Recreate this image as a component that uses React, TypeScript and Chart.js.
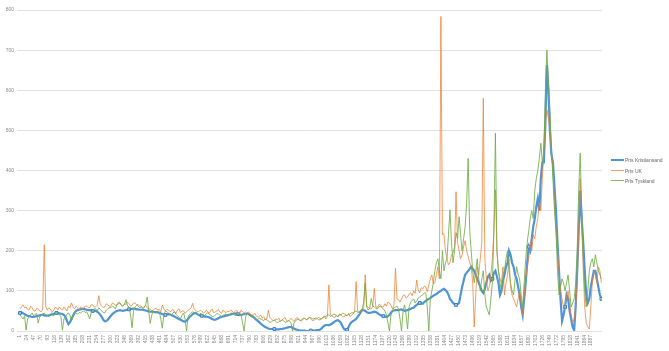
import React, { useEffect, useRef } from "react";
import { Chart, registerables } from "chart.js";

Chart.register(...registerables);

// Observation numbers of the samples: every 5th observation, starting at 1
const SAMPLE_START = 1;
const SAMPLE_STEP = 5;

const xTickLabels = [
  1, 24, 47, 70, 93, 116, 139, 162, 185, 208, 231, 254, 277, 300, 323, 346, 369, 392, 415, 438,
  461, 484, 507, 530, 553, 576, 599, 622, 645, 668, 691, 714, 737, 760, 783, 806, 829, 852, 875,
  898, 921, 944, 967, 990, 1013, 1036, 1059, 1082, 1105, 1128, 1151, 1174, 1197, 1220, 1243, 1266,
  1289, 1312, 1335, 1358, 1381, 1404, 1427, 1450, 1473, 1496, 1519, 1542, 1565, 1588, 1611, 1634,
  1657, 1680, 1703, 1726, 1749, 1772, 1795, 1818, 1841, 1864, 1887,
];

const yTicks = [0, 100, 200, 300, 400, 500, 600, 700, 800];

const seriesNames = ["Pris Kristiansand", "Pris UK", "Pris Tyskland"];

const prisKristiansand = [
  45, 46, 44, 42, 40, 38, 37, 36, 35, 35, 36, 37, 38, 39, 40, 41, 39, 38, 38, 39,
  40, 41, 42, 44, 45, 45, 44, 43, 42, 40, 35, 25, 17, 22, 30, 38, 45, 50, 52, 53,
  54, 55, 55, 54, 53, 52, 52, 51, 50, 50, 50, 48, 45, 40, 35, 28, 24, 25, 28, 33,
  38, 42, 45, 48, 50, 51, 52, 51, 50, 51, 52, 53, 54, 55, 55, 56, 55, 54, 54, 53,
  53, 53, 52, 51, 50, 49, 48, 48, 48, 47, 47, 46, 45, 44, 42, 41, 40, 41, 42, 41,
  40, 38, 36, 34, 32, 30, 28, 26, 24, 23, 26, 30, 35, 38, 42, 44, 45, 42, 40, 39,
  38, 37, 36, 36, 35, 34, 32, 30, 28, 28, 30, 32, 34, 35, 36, 37, 38, 39, 40, 41,
  42, 43, 44, 43, 42, 41, 40, 41, 42, 43, 44, 42, 40, 38, 35, 32, 28, 25, 22, 18,
  15, 12, 10, 8, 6, 5, 5, 5, 5, 4, 4, 4, 5, 5, 6, 7, 8, 9, 10, 10,
  8, 6, 4, 3, 2, 1, 1, 1, 1, 0, 0, 0, 1, 1, 1, 1, 2, 2, 3, 6,
  10, 13, 15, 15, 14, 16, 18, 21, 24, 26, 27, 24, 20, 12, 5, 3, 3, 10, 18, 22,
  25, 27, 30, 35, 40, 47, 52, 52, 50, 47, 45, 45, 46, 47, 48, 47, 45, 42, 40, 38,
  37, 36, 35, 37, 40, 45, 50, 51, 52, 52, 52, 53, 54, 52, 50, 51, 52, 54, 55, 57,
  58, 62, 65, 68, 70, 69, 68, 72, 75, 78, 80, 82, 85, 88, 90, 92, 95, 98, 100, 103,
  105, 102, 98, 90, 80, 75, 70, 67, 65, 67, 70, 90, 110, 125, 140, 145, 150, 155, 160, 155,
  150, 140, 130, 120, 110, 100, 95, 105, 120, 135, 140, 125, 130, 145, 150, 135, 120, 90, 100, 125,
  140, 160, 170, 200, 190, 170, 160, 140, 130, 110, 90, 60, 40, 80, 120, 170, 210, 200, 230, 260,
  280, 310, 330, 300, 380, 420, 420, 520, 663, 600, 500, 440, 420, 360, 300, 220, 150, 80, 25, 40,
  60, 90, 80, 50, 30, 10, 2, 60, 150, 250, 350, 280, 220, 150, 90, 70, 80, 110, 130, 150,
  150, 130, 110, 90, 80,
];

const prisUK = [
  55, 60, 65, 58, 60, 54, 52, 62, 58, 50, 50, 56, 55, 50, 48, 55, 215, 60, 52, 58,
  55, 48, 50, 58, 58, 52, 60, 55, 52, 60, 55, 50, 62, 58, 70, 60, 55, 62, 58, 52,
  60, 56, 55, 62, 62, 58, 58, 66, 65, 60, 60, 64, 88, 66, 62, 58, 60, 68, 65, 62,
  62, 70, 68, 64, 65, 72, 70, 63, 62, 68, 66, 72, 68, 62, 64, 70, 70, 66, 66, 62,
  62, 58, 60, 64, 58, 54, 55, 50, 52, 56, 56, 52, 54, 48, 65, 55, 50, 54, 52, 48,
  50, 54, 48, 44, 52, 55, 46, 50, 50, 44, 48, 52, 54, 58, 69, 55, 52, 48, 48, 52,
  50, 45, 46, 52, 48, 44, 52, 55, 45, 48, 50, 54, 48, 44, 52, 48, 46, 50, 48, 52,
  50, 46, 48, 52, 45, 42, 52, 48, 46, 43, 44, 48, 42, 38, 40, 44, 38, 34, 36, 40,
  32, 36, 28, 30, 52, 34, 30, 26, 26, 30, 28, 32, 24, 28, 30, 34, 26, 24, 28, 32,
  27, 24, 30, 34, 28, 26, 25, 30, 32, 28, 28, 34, 30, 26, 26, 30, 30, 34, 32, 30,
  35, 38, 30, 36, 115, 40, 38, 34, 34, 40, 36, 42, 40, 36, 35, 40, 38, 44, 36, 40,
  42, 48, 123, 50, 45, 52, 50, 58, 140, 62, 60, 55, 55, 62, 106, 60, 58, 66, 65, 60,
  60, 68, 62, 72, 70, 64, 55, 66, 156, 80, 78, 72, 80, 88, 90, 82, 85, 92, 95, 88,
  100, 94, 127, 102, 95, 108, 105, 112, 110, 98, 115, 130, 140, 118, 120, 140, 160, 130, 784, 240,
  243, 200, 180, 165, 170, 190, 195, 210, 347, 220, 200, 180, 190, 210, 225, 200, 185, 170, 160, 120,
  10, 90, 160, 140, 180, 220, 580, 180, 130, 100, 110, 140, 180, 250, 352, 200, 150, 130, 120, 160,
  90, 120, 140, 180, 110, 90, 80, 70, 60, 80, 100, 70, 40, 90, 130, 160, 180, 220, 200, 240,
  230, 260, 280, 320, 300, 380, 450, 520, 551, 530, 500, 450, 400, 320, 250, 200, 150, 100, 80, 60,
  60, 90, 100, 70, 40, 20, 30, 60, 120, 250, 380, 280, 150, 60, 20, 10, 5, 60, 120, 150,
  140, 120, 160, 150, 120,
];

const prisTyskland = [
  40, 35, 30, 38, 2, 30, 35, 40, 45, 38, 42, 44, 20, 36, 38, 42, 45, 40, 40, 36,
  42, 46, 38, 40, 45, 42, 40, 36, 2, 30, 35, 42, 45, 40, 25, 40, 48, 44, 42, 46,
  45, 48, 50, 46, 48, 40, 30, 45, 52, 56, 55, 50, 58, 54, 50, 46, 45, 52, 55, 58,
  58, 62, 60, 55, 65, 68, 70, 64, 62, 66, 78, 62, 60, 40, 8, 50, 60, 64, 62, 58,
  60, 56, 58, 65, 85, 50, 19, 40, 50, 46, 45, 50, 48, 30, 7, 40, 50, 48, 45, 42,
  40, 45, 48, 42, 38, 34, 30, 40, 45, 30, 0, 35, 42, 46, 48, 44, 45, 42, 40, 44,
  42, 40, 38, 44, 45, 42, 40, 35, 36, 40, 44, 42, 40, 36, 38, 42, 42, 38, 40, 44,
  45, 42, 38, 40, 42, 38, 40, 20, 0, 35, 44, 40, 38, 34, 35, 32, 30, 28, 32, 30,
  28, 26, 30, 28, 25, 22, 22, 26, 27, 24, 20, 24, 24, 28, 26, 22, 22, 26, 25, 20,
  0, 20, 26, 28, 30, 26, 28, 32, 32, 28, 30, 34, 34, 30, 30, 32, 32, 28, 28, 30,
  32, 36, 36, 40, 40, 36, 38, 42, 42, 38, 35, 40, 40, 44, 44, 40, 38, 42, 42, 46,
  45, 48, 50, 46, 48, 52, 55, 70, 119, 60, 52, 58, 81, 62, 60, 56, 55, 60, 62, 58,
  55, 50, 40, 20, 0, 40, 50, 58, 60, 62, 55, 30, 0, 50, 65, 40, 5, 60, 72, 76,
  80, 70, 75, 82, 85, 88, 90, 95, 95, 60, 0, 80, 100, 120, 150, 170, 180, 150, 130, 200,
  150, 170, 180, 240, 302, 220, 170, 200, 245, 230, 285, 240, 200, 230, 260, 320, 430, 250, 200, 150,
  120, 150, 180, 130, 100, 130, 150, 90, 60, 50, 40, 80, 120, 250, 493, 200, 150, 120, 100, 140,
  150, 180, 200, 150, 120, 100, 90, 130, 160, 140, 130, 90, 60, 120, 180, 220, 250, 280, 300, 280,
  350, 380, 400, 430, 468, 420, 450, 600, 700, 620, 550, 450, 380, 300, 250, 150, 90, 110, 130, 120,
  100, 120, 140, 100, 60, 70, 80, 120, 200, 350, 443, 300, 180, 100, 60, 100, 150, 170, 180, 160,
  190, 170, 150, 140, 130,
];

const FONT = "'Liberation Sans', Arial, sans-serif";
const BLUE = "#4f94d4";
const ORANGE = "rgba(237,125,49,0.75)";
const GREEN = "rgba(112,173,71,0.85)";

function toPoints(vals: number[]) {
  return vals.map((v, i) => ({ x: SAMPLE_START + i * SAMPLE_STEP, y: v }));
}

export default function App() {
  const ref = useRef<HTMLCanvasElement | null>(null);

  useEffect(() => {
    if (!ref.current) return;
    const chart = new Chart(ref.current, {
      type: "line",
      data: {
        datasets: [
          {
            label: seriesNames[0],
            data: toPoints(prisKristiansand),
            borderColor: BLUE,
            borderWidth: 2.2,
            pointStyle: "rect",
            pointRadius: (ctx: any) => (ctx.dataIndex % 24 === 0 ? 2 : 0),
            pointBackgroundColor: "#a8c8ea",
            pointBorderColor: "#3a7cc2",
            pointBorderWidth: 1,
            tension: 0,
            order: 2,
          },
          {
            label: seriesNames[1],
            data: toPoints(prisUK),
            borderColor: ORANGE,
            borderWidth: 1,
            pointRadius: 0,
            tension: 0,
            order: 1,
          },
          {
            label: seriesNames[2],
            data: toPoints(prisTyskland),
            borderColor: GREEN,
            borderWidth: 1,
            pointRadius: 0,
            tension: 0,
            order: 0,
          },
        ],
      },
      options: {
        animation: false,
        responsive: true,
        maintainAspectRatio: false,
        layout: { padding: { top: 10, right: 67, left: 0, bottom: 0 } },
        plugins: { legend: { display: false }, tooltip: { enabled: false } },
        scales: {
          x: {
            type: "linear",
            min: -9,
            max: 1923,
            afterBuildTicks: (s: any) => {
              s.ticks = xTickLabels.map((v) => ({ value: v }));
            },
            afterFit: (s: any) => {
              s.height = 20;
            },
            ticks: {
              autoSkip: false,
              minRotation: 90,
              maxRotation: 90,
              padding: 4,
              color: "#8a8a8a",
              font: { size: 5, family: FONT },
              callback: (v: any) => String(v),
            },
            grid: { display: false, drawTicks: false },
            border: { display: false },
          },
          y: {
            min: 0,
            max: 800,
            afterBuildTicks: (s: any) => {
              s.ticks = yTicks.map((v) => ({ value: v }));
            },
            afterFit: (s: any) => {
              s.width = 17;
            },
            ticks: {
              padding: 3,
              color: "#8a8a8a",
              font: { size: 5, family: FONT },
            },
            grid: { color: "#e2e2e2", drawTicks: false, lineWidth: 1 },
            border: { display: false },
          },
        },
      },
    });
    return () => chart.destroy();
  }, []);

  const legendColors = [BLUE, ORANGE, GREEN];
  const legendY = [160, 170.5, 180.5];

  return (
    <div style={{ position: "fixed", left: 0, top: 0, width: 669, height: 351, background: "#fff" }}>
      <canvas ref={ref} />
      {seriesNames.map((name, i) => (
        <div key={name} style={{ position: "absolute", left: 611, top: legendY[i] - 4, height: 8, display: "flex", alignItems: "center" }}>
          <div style={{ width: 13, height: i === 0 ? 2 : 1, background: legendColors[i] }} />
          <span style={{ marginLeft: 1, fontFamily: FONT, fontSize: 5, color: "#666", lineHeight: "8px", whiteSpace: "nowrap" }}>{name}</span>
        </div>
      ))}
    </div>
  );
}
